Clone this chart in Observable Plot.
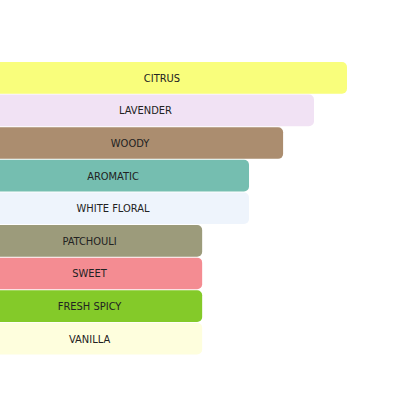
<!DOCTYPE html>
<html>
<head>
<meta charset="utf-8">
<script src="https://cdn.jsdelivr.net/npm/d3@7"></script>
<script src="https://cdn.jsdelivr.net/npm/@observablehq/plot@0.6"></script>
<style>
  html, body { margin: 0; padding: 0; background: #fff; overflow: hidden; }
</style>
</head>
<body>
<div id="chart"></div>
<script>
const categories = ["CITRUS", "LAVENDER", "WOODY", "AROMATIC", "WHITE FLORAL", "PATCHOULI", "SWEET", "FRESH SPICY", "VANILLA"];
const values = [100, 90.7, 82.0, 72.4, 72.4, 59.2, 59.2, 59.2, 59.2];
const colors = ["#F9FE7C", "#F1E2F4", "#AB8D6F", "#75BEB0", "#EEF4FC", "#9C9B7B", "#F48C92", "#84CA29", "#FEFEDD"];

const data = categories.map((c, i) => ({name: c, value: values[i], color: colors[i]}));

const chart = Plot.plot({
  width: 416,
  height: 416,
  margin: 0,
  style: {background: "#fff", fontFamily: "'DejaVu Sans Condensed', 'DejaVu Sans', sans-serif"},
  x: {domain: [0, 100], range: [-8, 347], axis: null},
  y: {domain: categories, range: [62, 354.5], paddingInner: 0.03, paddingOuter: 0, round: false, axis: null},
  marks: [
    Plot.barX(data, {x: "value", y: "name", fill: "color", rx: 5}),
    Plot.text(data, {x: d => d.value / 2, y: "name", text: "name", dx: -8, fill: "#222", fontSize: 11})
  ]
});
document.getElementById("chart").appendChild(chart);
</script>
</body>
</html>
